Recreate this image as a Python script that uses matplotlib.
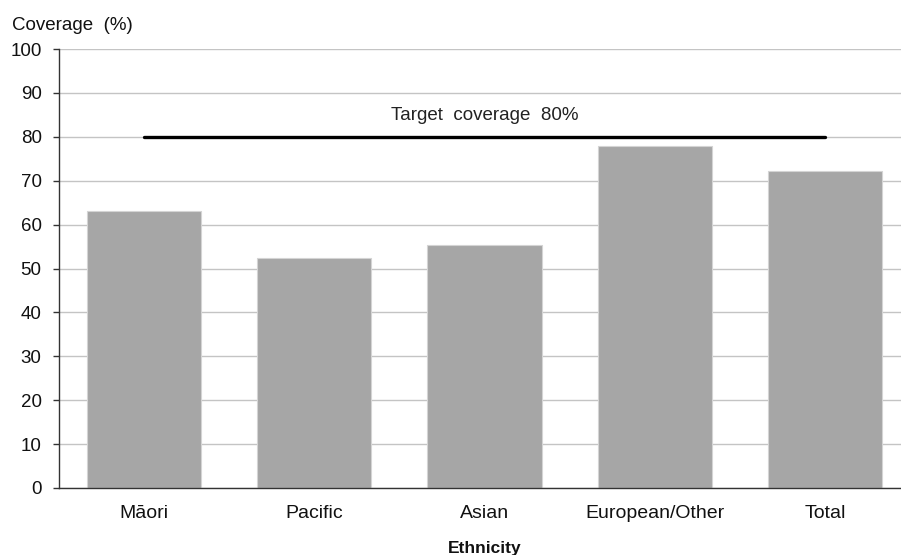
import matplotlib
matplotlib.use("Agg")
import matplotlib.pyplot as plt
import numpy as np

plt.rcParams['font.family'] = ['Liberation Sans', 'DejaVu Sans']

categories = ["Māori", "Pacific", "Asian", "European/Other", "Total"]
coverage = [63.0, 52.4, 55.3, 77.9, 72.2]
target = 80
yticks = [0, 10, 20, 30, 40, 50, 60, 70, 80, 90, 100]

W, H = 901, 555
fig = plt.figure(figsize=(W / 100, H / 100), dpi=100)
# plot area runs a bit past the right edge, as in the source image
ax = fig.add_axes([59 / W, (H - 488) / H, 851 / W, 439 / H])

x = np.arange(len(categories))
ax.bar(x, coverage, width=0.67, color="#a6a6a6", edgecolor="#d4d4d4",
       linewidth=0.8, zorder=2)

ax.plot([x[0], x[-1]], [target, target], color="black", linewidth=2.4,
        solid_capstyle="round", zorder=3)
ax.text(x[2], target + 4.8, "Target  coverage  80%", ha="center", va="center",
        fontsize=13.5, color="#222222")

ax.set_xlim(-0.5, len(categories) - 0.5)
ax.set_ylim(0, 100)
ax.set_yticks(yticks)
ax.set_xticks(x)
ax.set_xticklabels(categories)
ax.yaxis.grid(True, color="#c4c4c4", linewidth=1.0, zorder=0)
ax.set_axisbelow(True)

for s in ["top", "right"]:
    ax.spines[s].set_visible(False)
ax.spines["left"].set_color("#333333")
ax.spines["bottom"].set_color("#333333")
ax.spines["left"].set_linewidth(1.0)
ax.spines["bottom"].set_linewidth(1.0)

ax.tick_params(axis="y", length=4.5, width=1, color="#333333", pad=8,
               labelsize=13.5, labelcolor="#111111")
ax.tick_params(axis="x", length=0, pad=12, labelsize=14, labelcolor="#111111")

fig.text(12 / W, 1 - 25 / H, "Coverage  (%)", ha="left", va="center",
         fontsize=13.5, color="#111111")
fig.text(485 / W, 1 - 548 / H, "Ethnicity", ha="center", va="center",
         fontsize=12.5, fontweight="bold", color="#111111")

fig.savefig("out.png", dpi=100)
